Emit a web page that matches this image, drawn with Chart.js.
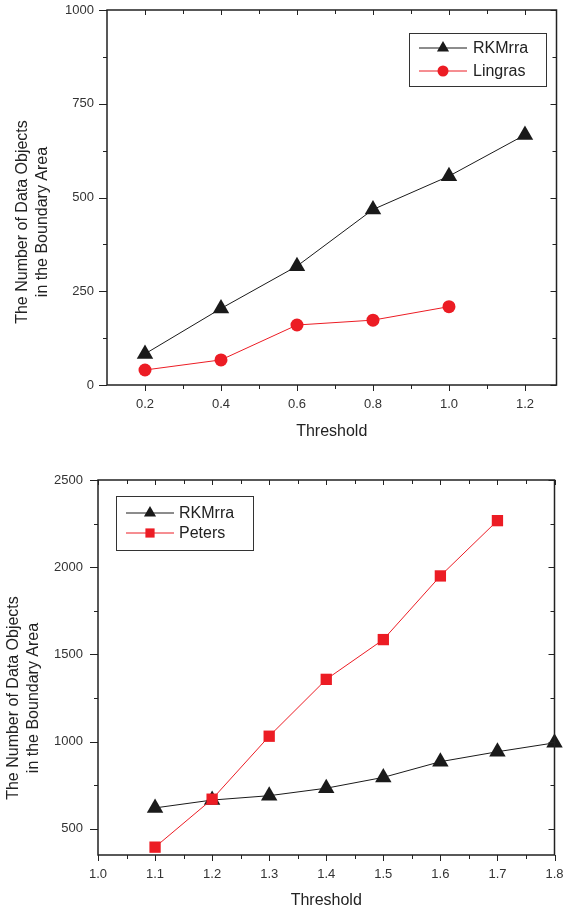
<!DOCTYPE html>
<html>
<head>
<meta charset="utf-8">
<script src="https://cdn.jsdelivr.net/npm/chart.js@4"></script>
<style>
  body { margin: 0; background: #fff; }
  canvas { position: absolute; left: 0; }
  #top { top: 0; }
  #bottom { top: 456px; }
</style>
</head>
<body>
<canvas id="top" width="566" height="456"></canvas>
<canvas id="bottom" width="566" height="457"></canvas>
<script>
// top panel: RKMrra vs Lingras
const topThreshold = [0.2, 0.4, 0.6, 0.8, 1.0, 1.2];
const topRKMrra = [83, 204, 317, 468, 557, 667];
const topLingrasThreshold = [0.2, 0.4, 0.6, 0.8, 1.0];
const topLingras = [40, 67, 160, 173, 209];
const topXTicks = [0.2, 0.4, 0.6, 0.8, 1.0, 1.2];
const topXMinor = [0.3, 0.5, 0.7, 0.9, 1.1];
const topYTicks = [0, 250, 500, 750, 1000];
const topYMinor = [125, 375, 625, 875];

// bottom panel: RKMrra vs Peters
const botThreshold = [1.1, 1.2, 1.3, 1.4, 1.5, 1.6, 1.7, 1.8];
const botRKMrra = [620, 665, 690, 733, 795, 885, 942, 993];
const botPetersThreshold = [1.1, 1.2, 1.3, 1.4, 1.5, 1.6, 1.7];
const botPeters = [395, 670, 1031, 1357, 1585, 1950, 2267];
const botXTicks = [1.0, 1.1, 1.2, 1.3, 1.4, 1.5, 1.6, 1.7, 1.8];
const botXMinor = [1.05, 1.15, 1.25, 1.35, 1.45, 1.55, 1.65, 1.75];
const botYTicks = [500, 1000, 1500, 2000, 2500];
const botYMinor = [750, 1250, 1750, 2250];

const yTitle = ["The Number of Data Objects", "in the Boundary Area"];
const xTitle = "Threshold";

const BLACK = "#1a1a1a";
const RED = "#ec1c24";
const FONT = "'Liberation Sans', Arial, sans-serif";

function pts(xs, ys) {
    return xs.map((x, i) => ({ x: x, y: ys[i] }));
}

// frame, inward/outward ticks, axis titles and the boxed legend
function framePlugin(cfg) {
    return {
        id: "frame",
        afterDraw(chart) {
            const c = chart.ctx;
            const a = chart.chartArea;
            const xs = chart.scales.x, ys = chart.scales.y;
            c.save();
            c.strokeStyle = "#222";
            c.lineWidth = 1;
            const tick = (x1, y1, x2, y2) => {
                c.beginPath(); c.moveTo(x1, y1); c.lineTo(x2, y2); c.stroke();
            };
            cfg.xMajor.forEach(v => {
                const px = Math.round(xs.getPixelForValue(v)) + 0.5;
                tick(px, a.bottom, px, a.bottom + 6);
                tick(px, a.top, px, a.top + 5);
            });
            cfg.xMinor.forEach(v => {
                const px = Math.round(xs.getPixelForValue(v)) + 0.5;
                tick(px, a.bottom, px, a.bottom + 4);
                tick(px, a.top, px, a.top + 4);
            });
            cfg.yMajor.forEach(v => {
                const py = Math.round(ys.getPixelForValue(v)) + 0.5;
                tick(a.left - 8, py, a.left, py);
                tick(a.right - 6, py, a.right, py);
            });
            cfg.yMinor.forEach(v => {
                const py = Math.round(ys.getPixelForValue(v)) + 0.5;
                tick(a.left - 4, py, a.left, py);
                tick(a.right - 4, py, a.right, py);
            });
            c.lineWidth = 1.5;
            c.strokeRect(a.left, a.top, a.right - a.left, a.bottom - a.top);

            // axis titles
            c.fillStyle = "#222";
            c.font = "16px " + FONT;
            c.textAlign = "center";
            c.textBaseline = "middle";
            c.fillText(xTitle, (a.left + a.right) / 2, cfg.xTitleY);
            c.save();
            c.translate(cfg.yTitleX, cfg.yTitleY);
            c.rotate(-Math.PI / 2);
            c.fillText(yTitle[0], 0, 0);
            c.fillText(yTitle[1], 0, cfg.yTitleGap);
            c.restore();

            // legend box
            const L = cfg.legend;
            c.lineWidth = 1;
            c.strokeStyle = "#333";
            c.strokeRect(L.x + 0.5, L.y + 0.5, L.w, L.h);
            c.textAlign = "left";
            c.font = "16px " + FONT;
            chart.data.datasets.forEach((ds, i) => {
                const ry = L.rowY[i];
                c.strokeStyle = ds.borderColor;
                c.lineWidth = 1;
                tick(L.lineX1, ry, L.lineX2, ry);
                c.fillStyle = ds.backgroundColor;
                Chart.helpers.drawPoint(c, { pointStyle: ds.pointStyle, radius: L.markR[i], borderWidth: 0, rotation: 0 }, (L.lineX1 + L.lineX2) / 2, ry);
                c.fillStyle = "#222";
                c.fillText(ds.label, L.textX, ry + 1);
            });
            c.restore();
        }
    };
}

function buildChart(id, cfg) {
    return new Chart(document.getElementById(id), {
        type: "line",
        data: { datasets: cfg.datasets },
        options: {
            responsive: false,
            animation: false,
            layout: { padding: cfg.padding },
            plugins: { legend: { display: false }, tooltip: { enabled: false } },
            scales: {
                x: {
                    type: "linear",
                    min: cfg.xMin,
                    max: cfg.xMax,
                    afterBuildTicks: s => { s.ticks = cfg.xMajor.map(v => ({ value: v })); },
                    afterFit: s => { s.height = cfg.xHeight; s.paddingLeft = 0; s.paddingRight = 0; },
                    grid: { display: false },
                    border: { display: false },
                    ticks: {
                        autoSkip: false, maxRotation: 0, padding: 4,
                        color: "#333", font: { family: FONT, size: 13 },
                        callback: v => Number(v).toFixed(1)
                    }
                },
                y: {
                    type: "linear",
                    min: cfg.yMin,
                    max: cfg.yMax,
                    afterBuildTicks: s => { s.ticks = cfg.yMajor.map(v => ({ value: v })); },
                    afterFit: s => { s.width = cfg.yWidth; s.paddingTop = 0; s.paddingBottom = 0; },
                    grid: { display: false },
                    border: { display: false },
                    ticks: {
                        autoSkip: false, padding: cfg.yPad,
                        color: "#333", font: { family: FONT, size: 13 },
                        callback: v => String(v)
                    }
                }
            }
        },
        plugins: [framePlugin(cfg)]
    });
}

buildChart("top", {
    datasets: [
        {
            label: "RKMrra", data: pts(topThreshold, topRKMrra), order: 1, clip: false,
            borderColor: BLACK, backgroundColor: BLACK, borderWidth: 1,
            pointStyle: "triangle", pointRadius: 9.5, pointBorderWidth: 0
        },
        {
            label: "Lingras", data: pts(topLingrasThreshold, topLingras), order: 0, clip: false,
            borderColor: RED, backgroundColor: RED, borderWidth: 1,
            pointStyle: "circle", pointRadius: 6.5, pointBorderWidth: 0
        }
    ],
    xMin: 0.1, xMax: 1.283, yMin: 0, yMax: 1000,
    xMajor: topXTicks, xMinor: topXMinor, yMajor: topYTicks, yMinor: topYMinor,
    padding: { left: 0, right: 7, top: 10, bottom: 0 },
    yWidth: 107, xHeight: 71, yPad: 5,
    xTitleY: 432, yTitleX: 23, yTitleY: 222, yTitleGap: 20,
    legend: {
        x: 409, y: 33, w: 137, h: 53,
        rowY: [48, 71], markR: [7, 5.5],
        lineX1: 419, lineX2: 467, textX: 473
    }
});

buildChart("bottom", {
    datasets: [
        {
            label: "RKMrra", data: pts(botThreshold, botRKMrra), order: 1, clip: false,
            borderColor: BLACK, backgroundColor: BLACK, borderWidth: 1,
            pointStyle: "triangle", pointRadius: 9.5, pointBorderWidth: 0
        },
        {
            label: "Peters", data: pts(botPetersThreshold, botPeters), order: 0, clip: false,
            borderColor: RED, backgroundColor: RED, borderWidth: 1,
            pointStyle: "rect", pointRadius: 8, pointBorderWidth: 0
        }
    ],
    xMin: 1.0, xMax: 1.8, yMin: 350, yMax: 2500,
    xMajor: botXTicks, xMinor: botXMinor, yMajor: botYTicks, yMinor: botYMinor,
    padding: { left: 0, right: 11.5, top: 24, bottom: 0 },
    yWidth: 98, xHeight: 58, yPad: 7,
    xTitleY: 445, yTitleX: 14, yTitleY: 242, yTitleGap: 20,
    legend: {
        x: 116, y: 40, w: 137, h: 54,
        rowY: [57, 77], markR: [7, 6.5],
        lineX1: 126, lineX2: 174, textX: 179
    }
});
</script>
</body>
</html>
